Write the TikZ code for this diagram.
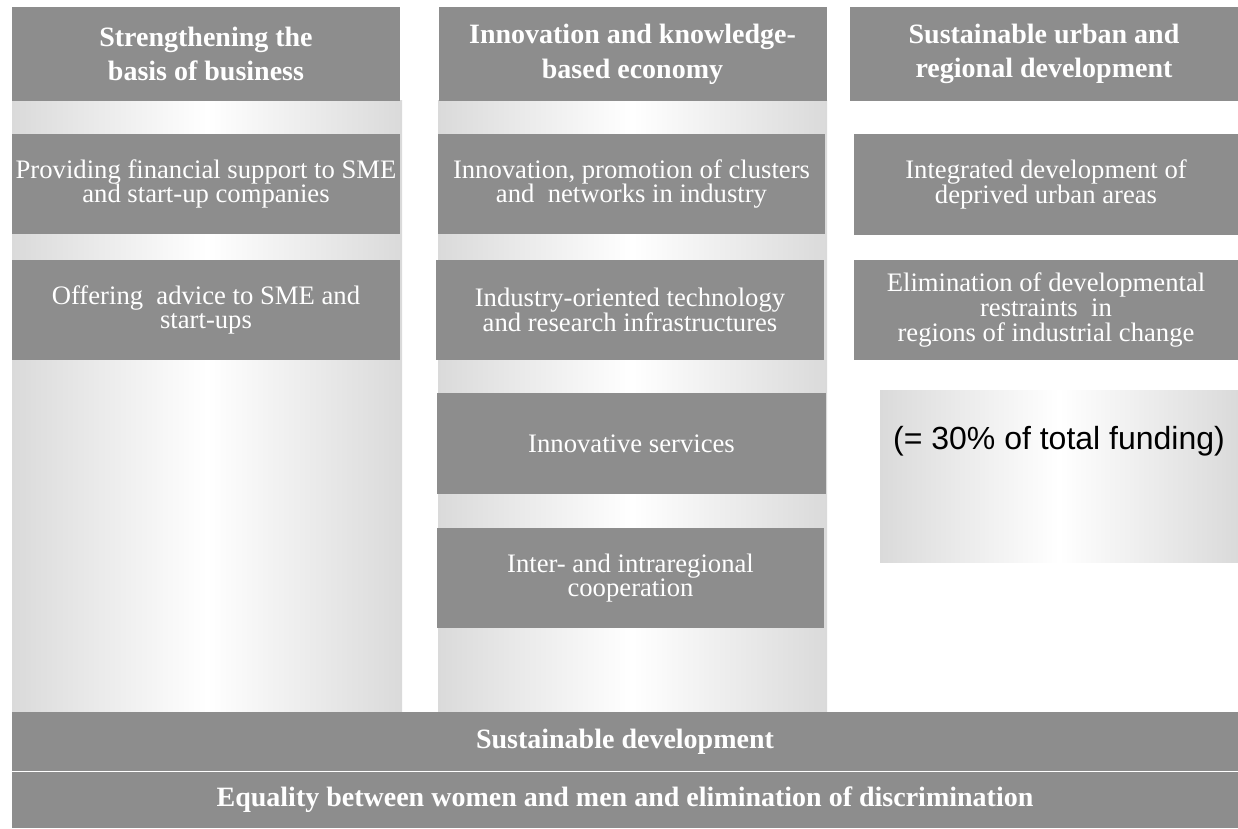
\documentclass[tikz,border=0pt]{standalone}
\usepackage{fontspec}
\setmainfont{Liberation Serif}
\newfontfamily\arialfont{Liberation Sans}
\usetikzlibrary{positioning}

\definecolor{boxgray}{RGB}{141,141,141}
\definecolor{edgegray}{RGB}{218,218,218}

\tikzset{every picture/.style={line width=0.75pt}}
\tikzset{
  colshade/.style={left color=edgegray,right color=edgegray,middle color=white,draw=none},
  headbox/.style={fill=boxgray,text=white,inner sep=0pt,align=center,
    minimum width=291pt,minimum height=70.5pt,font=\fontsize{21}{26}\selectfont\bfseries},
  itembox/.style={fill=boxgray,text=white,inner sep=0pt,align=center,
    minimum width=291pt,minimum height=75pt,font=\fontsize{20}{18.5}\selectfont},
  barbox/.style={fill=boxgray,text=white,inner sep=0pt,
    minimum width=919.5pt,font=\fontsize{21}{26}\selectfont\bfseries},
}

\begin{document}
\begin{tikzpicture}[x=0.75pt,y=0.75pt,yscale=-1,xscale=1]
\useasboundingbox (0,0) rectangle (1238,828);

%Shape: Column backgrounds
\path[colshade] (12,100) rectangle (402,712);
\path[colshade] (438,100) rectangle (827,712);

% Headers
\node[headbox] (hdrbiz) at (206,54) {Strengthening the\\basis of business};
\node[headbox] (hdrinno) at (632.5,54) {Innovation and knowledge-\\based economy};
\node[headbox] (hdrurban) at (1044,54) {Sustainable urban and\\regional development};

% Column 1
\node[itembox] (finance) at (206,184) {Providing financial support to SME\\and start-up companies};
\node[itembox] (advice) at (206,310) {Offering\ \ advice to SME and\\start-ups};

% Column 2
\node[itembox,minimum width=290.25pt] (clusters) at (631.5,184) {Innovation, promotion of clusters\\and\ \ networks in industry};
\node[itembox] (research) at (630,310) {Industry-oriented technology\\and research infrastructures};
\node[itembox,minimum width=291.75pt,minimum height=75.75pt] (services) at (631.5,443.5) {Innovative services};
\node[itembox,minimum width=290.25pt] (coop) at (630.5,578) {Inter- and intraregional\\cooperation};

% Column 3
\node[itembox,minimum width=288pt,minimum height=75.75pt] (deprived) at (1046,184.5) {Integrated development of\\deprived urban areas};
\node[itembox,minimum width=288pt] (restraints) at (1046,310) {Elimination of developmental\\restraints\ \ in\\regions of industrial change};
\node[colshade,inner sep=0pt,minimum width=268.5pt,minimum height=129pt] (fundbox) at (1059,476) {};
\node[inner sep=0pt,font=\arialfont\fontsize{24}{28}\selectfont,below=27pt of fundbox.north] (fundlbl) {(= 30\% of total funding)};

% Bottom bars
\node[barbox,minimum height=44.25pt] (sustdev) at (625,741.5) {Sustainable development};
\node[barbox,minimum height=42pt] (equality) at (625,800) {Equality between women and men and elimination of discrimination};
\draw[white,line width=1pt] (sustdev.south west) -- (sustdev.south east);

\end{tikzpicture}
\end{document}
